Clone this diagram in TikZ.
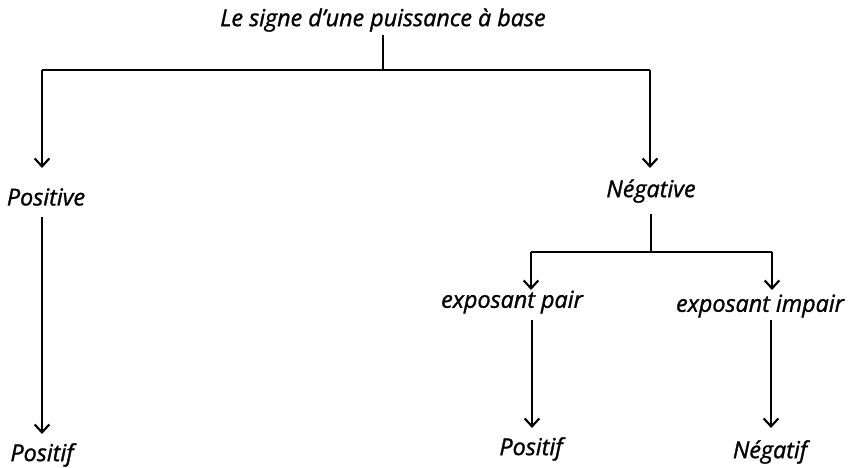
\documentclass[tikz,border=0pt]{standalone}
\usepackage{fontspec}
\setmainfont{Open Sans}[ItalicFeatures={FakeBold=1.2}]
\usetikzlibrary{arrows.meta}
\begin{document}
\begin{tikzpicture}[x=0.75pt,y=-0.75pt,
  lbl/.style={font=\itshape\fontsize{17.5}{19}\selectfont, inner sep=0pt, anchor=center},
  conn/.style={line width=1.6pt},
  arr/.style={conn,-{Straight Barb[length=6pt,width=11pt,line width=1.6pt]}}]
\useasboundingbox (0,0) rectangle (848,467);
\node[lbl] (root) at (383,20) {Le signe d’une puissance à base};
\node[lbl] (pos) at (46,197) {Positive};
\node[lbl] (neg) at (651,191) {Négative};
\node[lbl] (pair) at (512,302) {exposant pair};
\node[lbl] (impair) at (760,306) {exposant impair};
\node[lbl] (r1) at (42,455) {Positif};
\node[lbl] (r2) at (531,449) {Positif};
\node[lbl] (r3) at (770,452) {Négatif};
\coordinate (j1) at (383,70);
\coordinate (j2) at (651,252);
\draw[conn] (383,35) -- (j1);
\draw[conn] (42,70) -- (650,70);
\draw[arr] (42,70) -- (42,168);
\draw[arr] (650,70) -- (650,168);
\draw[arr] (42,217) -- (42,434);
\draw[conn] (651,214) -- (j2);
\draw[conn] (531,252) -- (772,252);
\draw[arr] (531,252) -- (531,290);
\draw[arr] (772,252) -- (772,290);
\draw[arr] (532,320) -- (532,428);
\draw[arr] (771,320) -- (771,428);
\end{tikzpicture}
\end{document}
